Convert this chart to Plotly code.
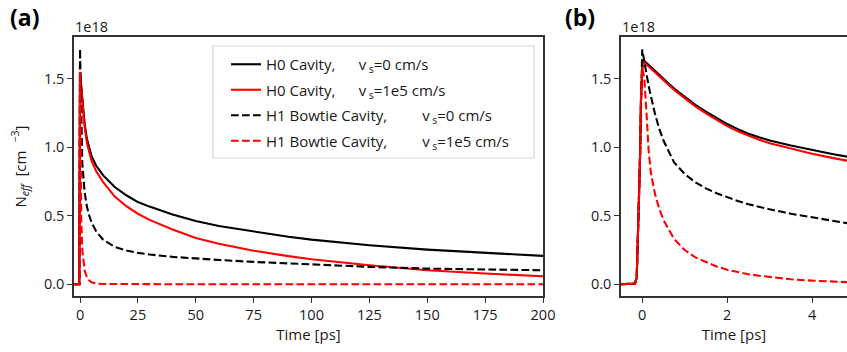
import plotly.graph_objects as go

# ---------------- data (values in units of 1e18 cm^-3) ----------------
# Panel (a): 0 - 200 ps
time_a = [-2.6, -0.3, 0, 0.5, 1, 2, 3, 4, 5, 7, 10, 15, 20, 25, 30, 40, 50, 60,
          75, 90, 100, 125, 150, 175, 200]
h0_vs0_a = [0, 0, 1.55, 1.45, 1.33, 1.17, 1.06, 0.99, 0.935, 0.865, 0.795,
            0.71, 0.65, 0.60, 0.567, 0.51, 0.462, 0.425, 0.385, 0.347, 0.326,
            0.285, 0.253, 0.229, 0.207]
h0_vs1e5_a = [0, 0, 1.53, 1.43, 1.32, 1.15, 1.03, 0.96, 0.90, 0.825, 0.745,
              0.64, 0.57, 0.515, 0.47, 0.40, 0.338, 0.295, 0.245, 0.205,
              0.183, 0.139, 0.102, 0.078, 0.058]
h1_vs0_a = [0, 0, 1.72, 1.10, 0.88, 0.67, 0.565, 0.50, 0.45, 0.385, 0.325,
            0.273, 0.247, 0.229, 0.217, 0.20, 0.187, 0.177, 0.163, 0.151, 0.143,
            0.127, 0.114, 0.107, 0.102]
h1_vs1e5_a = [0, 0, 1.56, 0.47, 0.25, 0.10, 0.05, 0.027, 0.014, 0.005, 0.002,
              0.001, 0.001, 0, 0, 0, 0, 0, 0, 0, 0, 0, 0, 0, 0]

# Panel (b): -0.5 - 5 ps
time_b = [-0.5, -0.2, -0.17, -0.13, -0.1, -0.08, -0.05, -0.03, 0, 0.03, 0.05,
          0.1, 0.15, 0.2, 0.3, 0.4, 0.5, 0.75, 1.0, 1.25, 1.5, 1.75, 2.0, 2.25,
          2.5, 2.75, 3.0, 3.5, 4.0, 4.5, 5.0]
h0_vs0_b = [0, 0, 0.005, 0.05, 0.3, 0.6, 0.95, 1.35, 1.58, 1.637, 1.63, 1.615,
            1.60, 1.585, 1.555, 1.527, 1.50, 1.43, 1.37, 1.31, 1.26, 1.212,
            1.17, 1.133, 1.10, 1.073, 1.05, 1.013, 0.98, 0.95, 0.922]
h0_vs1e5_b = [0, 0, 0.005, 0.05, 0.3, 0.6, 0.95, 1.35, 1.57, 1.625, 1.62,
              1.605, 1.59, 1.575, 1.545, 1.517, 1.49, 1.42, 1.36, 1.299, 1.248,
              1.199, 1.155, 1.117, 1.083, 1.055, 1.03, 0.99, 0.953, 0.921,
              0.892]
h1_vs0_b = [0, 0, 0.005, 0.05, 0.3, 0.6, 0.98, 1.40, 1.716, 1.66, 1.62, 1.53,
            1.45, 1.38, 1.245, 1.135, 1.05, 0.89, 0.805, 0.745, 0.70, 0.665,
            0.635, 0.608, 0.585, 0.565, 0.547, 0.515, 0.487, 0.461, 0.437]
h1_vs1e5_b = [0, 0, 0.005, 0.05, 0.3, 0.6, 0.95, 1.35, 1.58, 1.54, 1.50, 1.25,
              0.98, 0.82, 0.66, 0.55, 0.47, 0.33, 0.25, 0.196, 0.16, 0.13,
              0.105, 0.087, 0.073, 0.062, 0.052, 0.036, 0.026, 0.019, 0.013]

labels = [
    "H0 Cavity,\u00a0\u00a0\u00a0\u00a0\u00a0 v\u2009<sub>s</sub>=0 cm/s",
    "H0 Cavity,\u00a0\u00a0\u00a0\u00a0\u00a0 v\u2009<sub>s</sub>=1e5 cm/s",
    "H1 Bowtie Cavity,\u00a0\u00a0\u00a0\u00a0\u00a0\u00a0\u00a0\u00a0 v\u2009<sub>s</sub>=0 cm/s",
    "H1 Bowtie Cavity,\u00a0\u00a0\u00a0\u00a0\u00a0\u00a0\u00a0\u00a0 v\u2009<sub>s</sub>=1e5 cm/s",
]
colors = ["#000000", "#ff0000", "#000000", "#ff0000"]
dashes = ["solid", "solid", "7.7px,3.3px", "7.7px,3.3px"]

series_a = [h0_vs0_a, h0_vs1e5_a, h1_vs0_a, h1_vs1e5_a]
series_b = [h0_vs0_b, h0_vs1e5_b, h1_vs0_b, h1_vs1e5_b]

W, H = 847, 352
FONT = "Open Sans"
AX = "#333333"
TXT = "#1a1a1a"

fig = go.Figure()
for i in range(4):
    fig.add_trace(go.Scatter(
        x=time_a, y=series_a[i], mode="lines", name=labels[i],
        legendgroup=str(i),
        line=dict(color=colors[i], width=2.1, dash=dashes[i]),
        xaxis="x", yaxis="y"))
for i in range(4):
    fig.add_trace(go.Scatter(
        x=time_b, y=series_b[i], mode="lines", name=labels[i],
        showlegend=False, legendgroup=str(i),
        line=dict(color=colors[i], width=2.1, dash=dashes[i]),
        xaxis="x2", yaxis="y2"))

ydom = [1 - 296 / H, 1 - 37 / H]
yrange = [-0.086, 1.806]
common_ax = dict(showline=True, linecolor=AX, linewidth=1.5, ticks="outside",
                 ticklen=5, tickwidth=1.3, tickcolor=AX, showgrid=False,
                 zeroline=False, automargin=False,
                 tickfont=dict(family=FONT, size=14.5, color=TXT))

fig.update_layout(
    width=W, height=H, margin=dict(l=0, r=0, t=0, b=0, autoexpand=False),
    paper_bgcolor="white", plot_bgcolor="white",
    font=dict(family=FONT, size=15, color=TXT),
    xaxis=dict(domain=[74 / W, 543 / W], range=[-2.6, 200], mirror=True,
               tickvals=[0, 25, 50, 75, 100, 125, 150, 175, 200],
               title=dict(text="Time [ps]", font=dict(family=FONT, size=15), standoff=2),
               anchor="y", **common_ax),
    yaxis=dict(domain=ydom, range=yrange, mirror=True,
               tickvals=[0, 0.5, 1.0, 1.5], tickformat=".1f",
               title=dict(text="N<sub><i>eff</i></sub>\u00a0\u00a0[cm<sup>\u00a0\u00a0\u00a0\u22123</sup>]",
                          font=dict(family=FONT, size=15), standoff=14),
               anchor="x", **common_ax),
    xaxis2=dict(domain=[621 / W, 1.0], range=[-0.5, 4.82], mirror=True,
                tickvals=[0, 2, 4],
                title=dict(text="Time [ps]", font=dict(family=FONT, size=15), standoff=2),
                anchor="y2", **common_ax),
    yaxis2=dict(domain=ydom, range=yrange, mirror=False,
                tickvals=[0, 0.5, 1.0, 1.5], tickformat=".1f",
                anchor="x2", **common_ax),
    legend=dict(x=226 / W, y=1 - 48 / H, xanchor="left", yanchor="top",
                bgcolor="rgba(0,0,0,0)", borderwidth=0, tracegroupgap=3,
                font=dict(family=FONT, size=15, color=TXT)),
    shapes=[dict(type="rect", xref="paper", yref="paper",
                 x0=213 / W, x1=534 / W, y0=1 - 158 / H, y1=1 - 46 / H,
                 line=dict(color="#d6d6d6", width=1.2), fillcolor="rgba(255,255,255,0.8)",
                 layer="above")],
    annotations=[
        dict(text="<b>(a)</b>", x=8 / W, y=1 - 17 / H, xref="paper", yref="paper",
             xanchor="left", yanchor="middle", showarrow=False,
             font=dict(family=FONT, size=23, color="black")),
        dict(text="<b>(b)</b>", x=563 / W, y=1 - 17 / H, xref="paper", yref="paper",
             xanchor="left", yanchor="middle", showarrow=False,
             font=dict(family=FONT, size=23, color="black")),
        dict(text="1e18", x=73 / W, y=1 - 27 / H, xref="paper", yref="paper",
             xanchor="left", yanchor="middle", showarrow=False,
             font=dict(family=FONT, size=14.5, color=TXT)),
        dict(text="1e18", x=620 / W, y=1 - 27 / H, xref="paper", yref="paper",
             xanchor="left", yanchor="middle", showarrow=False,
             font=dict(family=FONT, size=14.5, color=TXT)),
    ],
)

fig.write_html("out.html")
